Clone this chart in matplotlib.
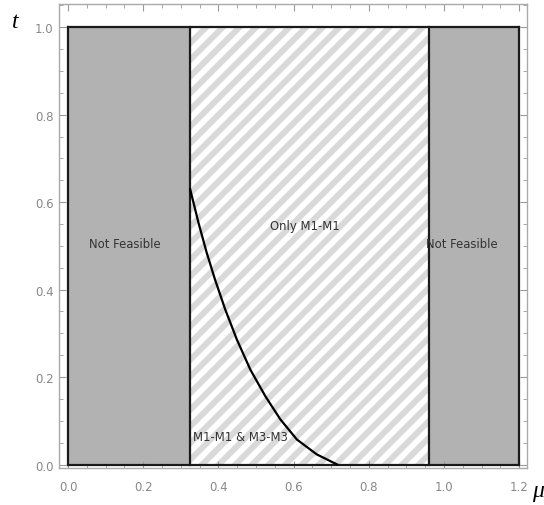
import matplotlib
matplotlib.use('Agg')
import matplotlib.pyplot as plt
import numpy as np
from matplotlib.ticker import MultipleLocator

# region borders on the mu axis
mu_edges = [0.0, 0.325, 0.96, 1.2]
t_top = 1.0

# boundary curve
mu_curve = [0.325, 0.347, 0.369, 0.391, 0.418, 0.449, 0.485, 0.525, 0.565, 0.609, 0.662, 0.716]
t_curve = [0.629, 0.553, 0.484, 0.423, 0.355, 0.286, 0.217, 0.156, 0.103, 0.057, 0.023, 0.0]

labels = ["Not Feasible", "Only M1-M1", "Not Feasible", "M1-M1 & M3-M3"]
label_pos = [(0.152, 0.506), (0.63, 0.547), (1.048, 0.506), (0.458, 0.064)]

plt.rcParams['hatch.linewidth'] = 4.3

fig = plt.figure(figsize=(5.44, 5.06), dpi=100)
ax = fig.add_axes([59/544, 37/506, 468/544, 464/506])

# grey not-feasible blocks
ax.fill_between([mu_edges[0], mu_edges[1]], 0, t_top, color='#b2b2b2', lw=0)
ax.fill_between([mu_edges[2], mu_edges[3]], 0, t_top, color='#b2b2b2', lw=0)
# striped middle
ax.fill_between([mu_edges[1], mu_edges[2]], 0, t_top, facecolor='white',
                edgecolor='#d9d9d9', hatch='//', lw=0)

# outlines
for m in mu_edges:
    ax.plot([m, m], [0, t_top], color='#1a1a1a', lw=1.6)
ax.plot([mu_edges[0], mu_edges[-1]], [0, 0], color='#1a1a1a', lw=1.6)
ax.plot([mu_edges[0], mu_edges[-1]], [t_top, t_top], color='#1a1a1a', lw=1.6)

ax.plot(mu_curve, t_curve, color='black', lw=1.6)

for s, (x, y) in zip(labels, label_pos):
    ax.text(x, y, s, fontsize=8.4, color='#333333', ha='center', va='center')

ax.set_xlim(-0.024, 1.221)
ax.set_ylim(-0.008, 1.053)
ax.xaxis.set_major_locator(MultipleLocator(0.2))
ax.xaxis.set_minor_locator(MultipleLocator(0.05))
ax.yaxis.set_major_locator(MultipleLocator(0.2))
ax.yaxis.set_minor_locator(MultipleLocator(0.05))
ax.tick_params(which='both', direction='in', top=True, right=True,
               color='#999999', labelsize=8.5, labelcolor='#888888')
ax.tick_params(axis='x', pad=9)
ax.tick_params(axis='y', pad=4)
ax.tick_params(which='major', length=5)
ax.tick_params(which='minor', length=3)
for sp in ax.spines.values():
    sp.set_color('#aaaaaa')
    sp.set_linewidth(1.0)

fig.text(15/544, 1 - 22/506, 't', fontsize=17, style='italic', family='Liberation Serif',
         ha='center', va='center')
fig.text(538/544, 1 - 492/506, 'μ', fontsize=17, style='italic', family='Liberation Serif',
         ha='center', va='center')

fig.savefig('out.png', dpi=100)
